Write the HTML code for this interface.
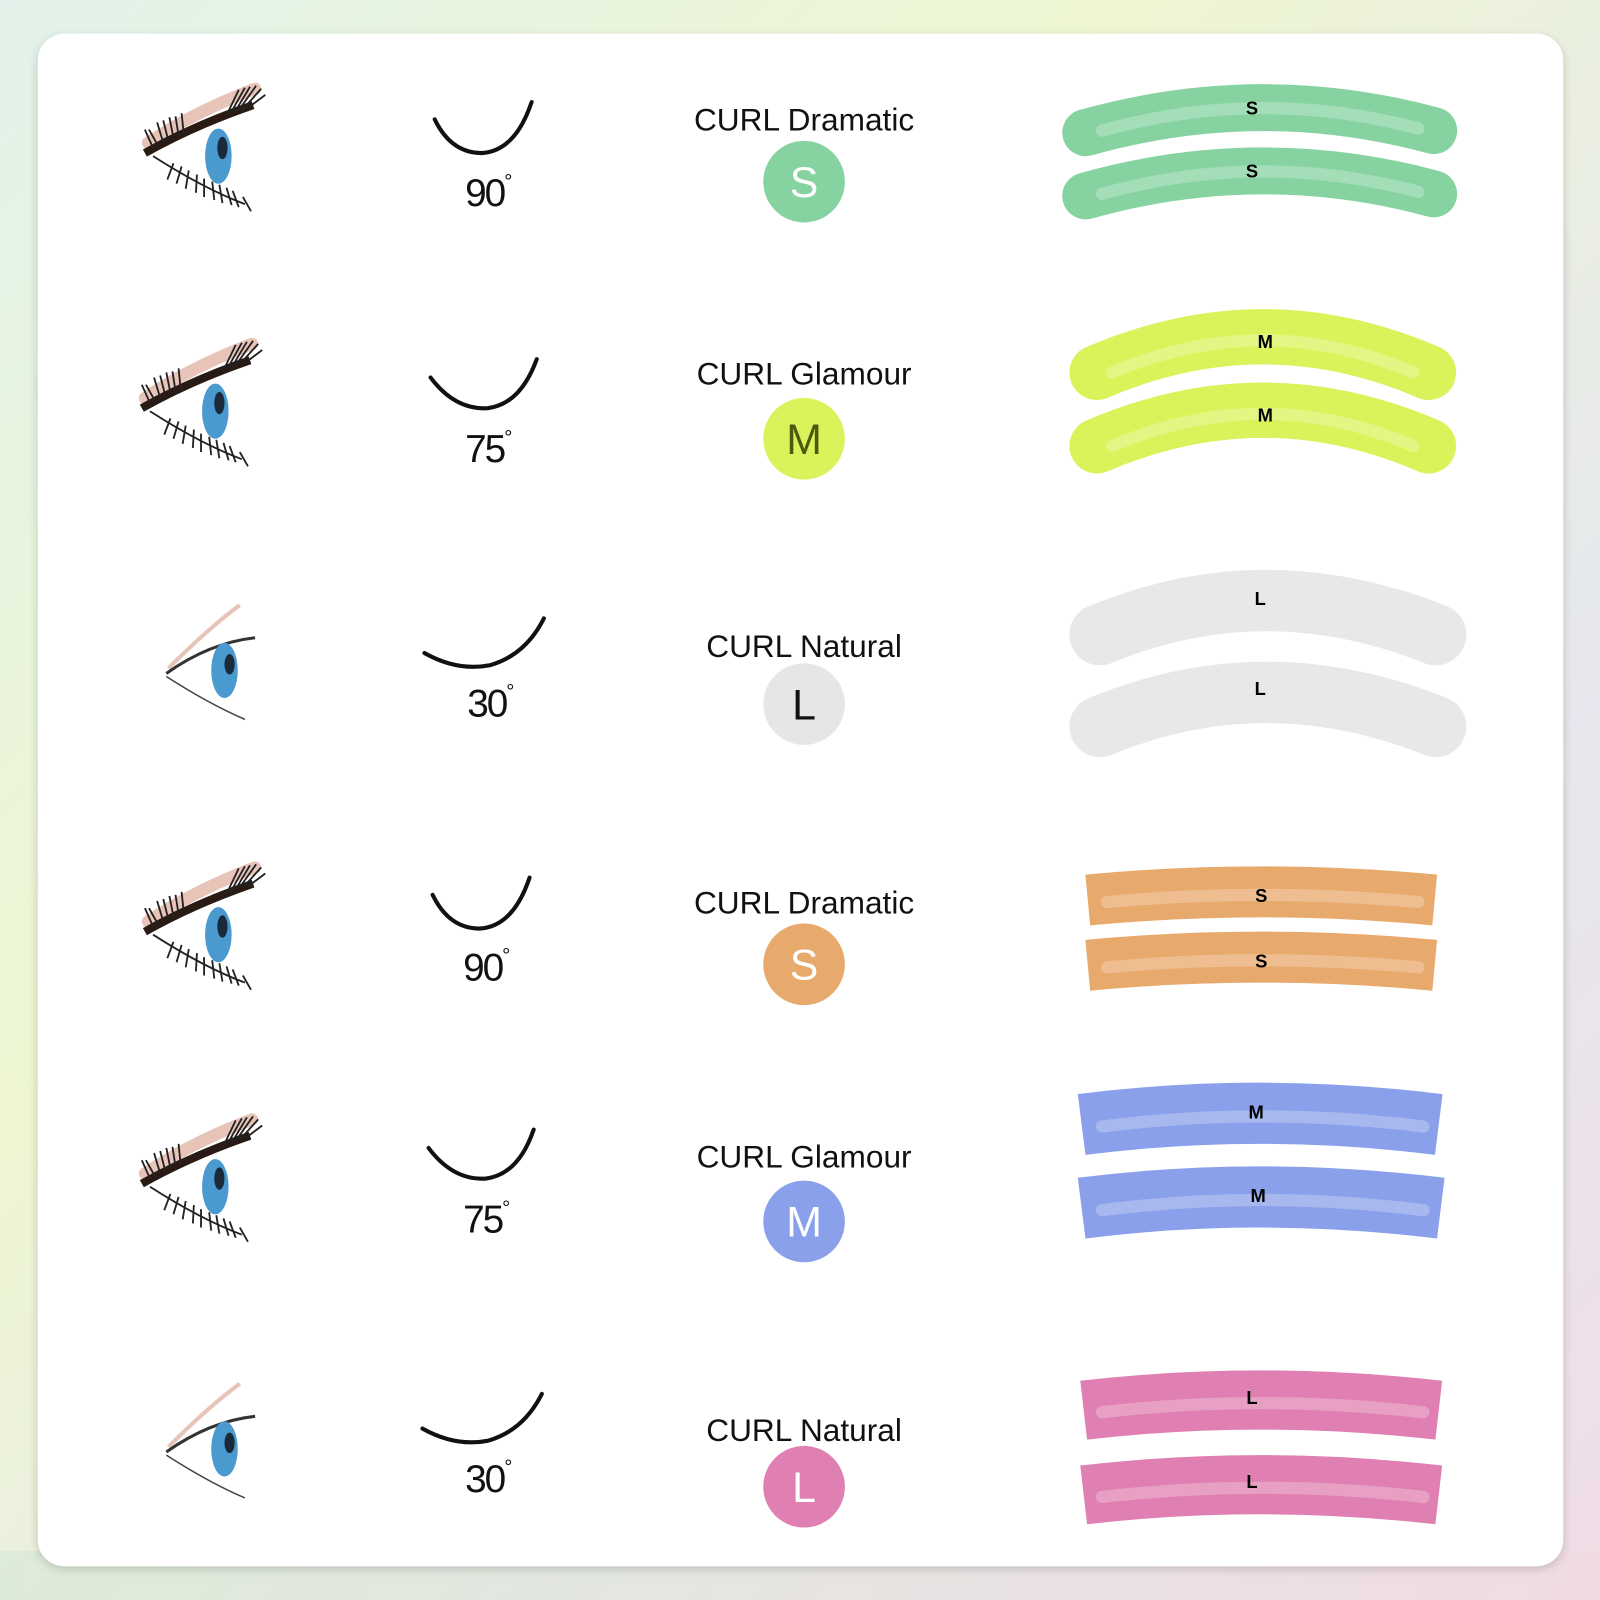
<!DOCTYPE html>
<html><head><meta charset="utf-8"><style>
html,body{margin:0;padding:0;width:1600px;height:1600px;overflow:hidden}
svg{display:block}
text{font-family:"Liberation Sans",sans-serif}
</style></head><body>
<svg width="1600" height="1600" viewBox="0 0 1568 1568" xmlns="http://www.w3.org/2000/svg">
<defs>
<linearGradient id="bg" x1="0" y1="0" x2="1" y2="1">
<stop offset="0" stop-color="#e2f2ea"/><stop offset="0.35" stop-color="#eef6d2"/><stop offset="0.7" stop-color="#e6e8ee"/><stop offset="1" stop-color="#f0dde6"/></linearGradient>
<linearGradient id="bg2" x1="0" y1="0" x2="1" y2="0">
<stop offset="0" stop-color="#cfe6d2"/><stop offset="0.5" stop-color="#e6e3d6"/><stop offset="1" stop-color="#f0d8e2"/></linearGradient>
<filter id="sh" x="-5%" y="-5%" width="110%" height="110%"><feGaussianBlur stdDeviation="5"/></filter>
<g id="eye">
<path d="M-55,-5 Q-10,-35 50,-58" stroke="#e8c4b8" stroke-width="12" fill="none" stroke-linecap="round"/>
<path d="M-58,5 Q-10,-22 48,-42" stroke="#2a1a14" stroke-width="8" fill="none"/>
<ellipse cx="14" cy="8" rx="13" ry="27" fill="#4a9ad0"/>
<ellipse cx="18" cy="0" rx="5" ry="11" fill="#1a2a3a"/>
<g stroke="#222" stroke-width="1.8" fill="none">
<path d="M-50,0 l-8,-18 M-45,-2 l-9,-16 M-40,-5 l-6,-20 M-35,-7 l-5,-20 M-30,-10 l-4,-20 M-25,-12 l-3,-19 M-20,-14 l-2,-20 M30,-35 l15,-25 M34,-37 l17,-24 M38,-38 l18,-20 M44,-40 l16,-12 M22,-32 l12,-25 M26,-34 l14,-25"/>
<path d="M-50,8 Q0,40 40,55 M-30,15 l-6,16 M-22,18 l-5,17 M-15,22 l-3,18 M-7,26 l-1,18 M0,30 l0,18 M8,33 l2,18 M15,36 l3,18 M22,39 l5,17 M28,42 l6,16 M38,48 l8,14"/>
</g>
</g>
<g id="eyeS">
<path d="M-40,0 Q0,-40 30,-62" stroke="#e8c4b8" stroke-width="4" fill="none"/>
<path d="M-42,5 Q0,-25 45,-30" stroke="#333" stroke-width="3" fill="none"/>
<ellipse cx="15" cy="2" rx="13" ry="27" fill="#4a9ad0"/>
<ellipse cx="20" cy="-4" rx="5" ry="10" fill="#1a2a3a"/>
<path d="M-42,8 Q0,35 35,50" stroke="#444" stroke-width="1.5" fill="none"/>
</g>
</defs>
<rect width="1568" height="1568" fill="url(#bg)"/>
<rect y="1520" width="1568" height="48" fill="url(#bg2)" opacity="0.5"/>
<rect x="37" y="37" width="1495" height="1500" rx="26" fill="#000" opacity="0.18" filter="url(#sh)"/>
<rect x="37" y="33" width="1495" height="1502" rx="26" fill="#fff"/>

<use href="#eye" x="200" y="145"/>
<use href="#eye" x="197" y="395"/>
<use href="#eyeS" x="205" y="655"/>
<use href="#eye" x="200" y="908"/>
<use href="#eye" x="197" y="1155"/>
<use href="#eyeS" x="205" y="1418"/>

<g stroke="#111" stroke-width="4" fill="none" stroke-linecap="round">
<path d="M426,117 Q442,150 472,150 Q505,148 521,100"/>
<path d="M422,370 Q446,402 478,400 Q510,396 526,352"/>
<path d="M416,640 Q448,658 480,652 Q515,642 533,606"/>
<path d="M424,877 Q440,910 470,910 Q503,908 519,860"/>
<path d="M420,1125 Q444,1157 476,1155 Q508,1151 523,1107"/>
<path d="M414,1400 Q446,1418 478,1412 Q513,1402 531,1366"/>
</g>
<g font-size="38" fill="#111" text-anchor="middle" letter-spacing="-2">
<text x="478" y="202">90<tspan font-size="20" dy="-18">°</tspan></text>
<text x="478" y="453">75<tspan font-size="20" dy="-18">°</tspan></text>
<text x="480" y="702">30<tspan font-size="20" dy="-18">°</tspan></text>
<text x="476" y="961">90<tspan font-size="20" dy="-18">°</tspan></text>
<text x="476" y="1208">75<tspan font-size="20" dy="-18">°</tspan></text>
<text x="478" y="1462">30<tspan font-size="20" dy="-18">°</tspan></text>
</g>

<g font-size="31" fill="#111" text-anchor="middle">
<text x="788" y="128">CURL Dramatic</text>
<text x="788" y="377">CURL Glamour</text>
<text x="788" y="644">CURL Natural</text>
<text x="788" y="895">CURL Dramatic</text>
<text x="788" y="1144">CURL Glamour</text>
<text x="788" y="1412">CURL Natural</text>
</g>
<circle cx="788" cy="178" r="40" fill="#86d3a1"/>
<circle cx="788" cy="430" r="40" fill="#dcf25a"/>
<circle cx="788" cy="690" r="40" fill="#e6e6e6"/>
<circle cx="788" cy="945" r="40" fill="#e8a96c"/>
<circle cx="788" cy="1197" r="40" fill="#8aa0ea"/>
<circle cx="788" cy="1457" r="40" fill="#e07fb1"/>
<g font-size="42" text-anchor="middle">
<text x="788" y="193" fill="#fff">S</text>
<text x="788" y="445" fill="#4a5a10">M</text>
<text x="788" y="705" fill="#111">L</text>
<text x="788" y="960" fill="#fff">S</text>
<text x="788" y="1212" fill="#fff">M</text>
<text x="788" y="1472" fill="#fff">L</text>
</g>

<g fill="none">
<path d="M1064,130 Q1235,82 1405,128" stroke="#86d3a1" stroke-width="46" stroke-linecap="round"/>
<path d="M1064,192 Q1235,144 1405,190" stroke="#86d3a1" stroke-width="46" stroke-linecap="round"/>
<path d="M1075,365 Q1238,295 1400,365" stroke="#dcf25a" stroke-width="54" stroke-linecap="round"/>
<path d="M1075,437 Q1238,367 1400,437" stroke="#dcf25a" stroke-width="54" stroke-linecap="round"/>
<path d="M1078,622 Q1240,555 1407,622" stroke="#e8e8e8" stroke-width="60" stroke-linecap="round"/>
<path d="M1078,712 Q1240,645 1407,712" stroke="#e8e8e8" stroke-width="60" stroke-linecap="round"/>
<path d="M1066,882 Q1236,866 1406,882" stroke="#e8a96c" stroke-width="50"/>
<path d="M1066,946 Q1236,930 1406,946" stroke="#e8a96c" stroke-width="50"/>
<path d="M1060,1102 Q1234,1080 1410,1102" stroke="#8aa0ea" stroke-width="60"/>
<path d="M1060,1184 Q1234,1162 1412,1184" stroke="#8aa0ea" stroke-width="60"/>
<path d="M1062,1382 Q1235,1362 1410,1382" stroke="#e07fb1" stroke-width="58"/>
<path d="M1062,1465 Q1235,1445 1410,1465" stroke="#e07fb1" stroke-width="58"/>
</g>
<g fill="none" stroke="#fff" stroke-opacity="0.25" stroke-width="12" stroke-linecap="round">
<path d="M1080,128 Q1235,85 1390,126"/><path d="M1080,190 Q1235,147 1390,188"/>
<path d="M1090,365 Q1238,302 1385,365"/><path d="M1090,437 Q1238,374 1385,437"/>
<path d="M1085,884 Q1236,870 1390,884"/><path d="M1085,948 Q1236,934 1390,948"/>
<path d="M1080,1104 Q1234,1084 1395,1104"/><path d="M1080,1186 Q1234,1166 1395,1186"/>
<path d="M1080,1384 Q1235,1366 1395,1384"/><path d="M1080,1467 Q1235,1449 1395,1467"/>
</g>
<g font-size="18" font-weight="bold" fill="#000" text-anchor="middle">
<text x="1227" y="112">S</text><text x="1227" y="174">S</text>
<text x="1240" y="341">M</text><text x="1240" y="413">M</text>
<text x="1235" y="593">L</text><text x="1235" y="681">L</text>
<text x="1236" y="884">S</text><text x="1236" y="948">S</text>
<text x="1231" y="1096">M</text><text x="1233" y="1178">M</text>
<text x="1227" y="1376">L</text><text x="1227" y="1458">L</text>
</g>
</svg>
</body></html>
